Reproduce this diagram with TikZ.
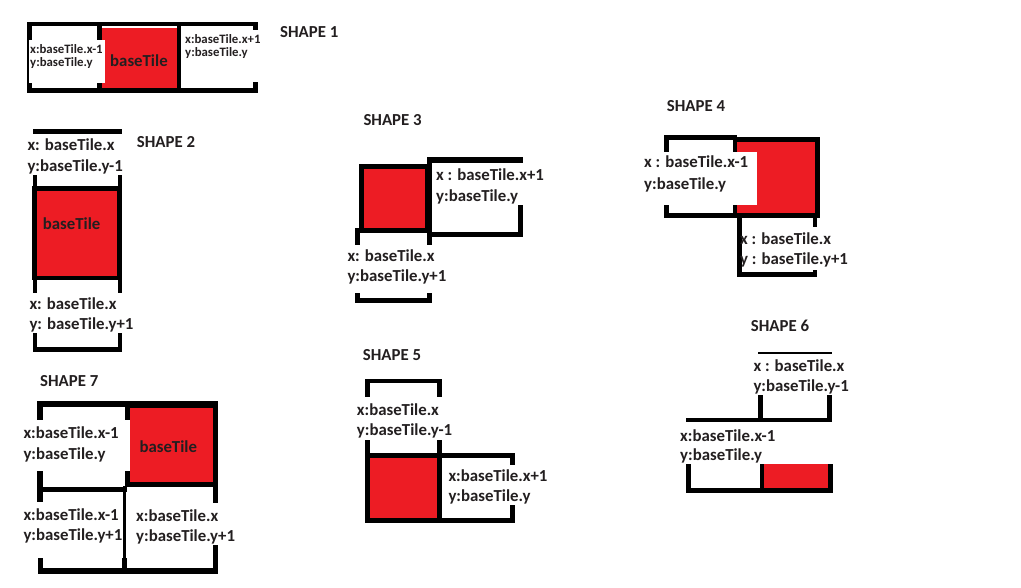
\documentclass[tikz,border=0pt]{standalone}
\usepackage{fontspec}
\setmainfont{Carlito}
\definecolor{pred}{RGB}{237,28,36}
\definecolor{txt}{RGB}{35,31,32}
\newcommand\lblfont{\fontsize{16.8}{20}\selectfont\bfseries}
\newcommand\smlfont{\fontsize{12.8}{13}\selectfont\bfseries}
\tikzset{
  lbl/.style={anchor=base west, inner sep=0pt, text=txt, font=\lblfont},
  sml/.style={lbl, font=\smlfont},
  bk/.style={fill=black},
  rd/.style={fill=pred},
  wh/.style={fill=white}
}
\begin{document}
\begin{tikzpicture}[x=1pt,y=-1pt]
\fill[white] (0,0) rectangle (1021,588);
\useasboundingbox (0,0) rectangle (1021,588);

% ---------- SHAPE 1 ----------
\fill[bk] (27,21.7) rectangle (258.3,26.3);
\fill[bk] (27,88.3) rectangle (258.3,93.3);
\fill[bk] (27,21.7) rectangle (32,93.3);
\fill[bk] (97,21.7) rectangle (101.7,93.3);
\fill[bk] (176.7,21.7) rectangle (181,93.3);
\fill[bk] (253.3,21.7) rectangle (258.3,30);
\fill[bk] (253.3,81.7) rectangle (258.3,93.3);
\fill[rd] (101.7,28.3) rectangle (176.7,88.3);
\fill[wh] (29.3,40) rectangle (105,83);
\node[sml] (s1a) at (30,53.8) {x:baseTile.x-1};
\node[sml] (s1b) at (30,67) {y:baseTile.y};
\node[lbl] (s1c) at (110,66.8) {baseTile};
\node[sml] (s1d) at (185,43.8) {x:baseTile.x+1};
\node[sml] (s1e) at (185,57) {y:baseTile.y};
\node[lbl] (t1) at (280,37.7) {SHAPE 1};

% ---------- SHAPE 2 ----------
\fill[bk] (33.3,129.3) rectangle (121.7,134);
\fill[bk] (33.3,175) rectangle (37.3,292.7);
\fill[bk] (117.7,175) rectangle (122.3,292.7);
\fill[bk] (32.3,185.7) rectangle (121.7,280);
\fill[rd] (37.3,190.7) rectangle (117.3,275.7);
\fill[bk] (33.3,333.3) rectangle (37.3,351.7);
\fill[bk] (117.7,333.3) rectangle (122.3,351.7);
\fill[bk] (33.3,346.7) rectangle (122.3,351.7);
\node[lbl] (s2a) at (27.3,151) {x: baseTile.x};
\node[lbl] (s2b) at (27.3,171.7) {y:baseTile.y-1};
\node[lbl] (s2c) at (42.7,230) {baseTile};
\node[lbl] (s2d) at (29.3,309.3) {x: baseTile.x};
\node[lbl] (s2e) at (29.3,330) {y: baseTile.y+1};
\node[lbl] (t2) at (136.7,147.7) {SHAPE 2};

% ---------- SHAPE 3 ----------
\fill[bk] (359.3,164) rectangle (430,232.7);
\fill[rd] (364.3,169) rectangle (425,227.7);
\fill[bk] (426.7,157.3) rectangle (523.3,162.7);
\fill[bk] (426.7,157.3) rectangle (431.7,236.7);
\fill[bk] (518.3,157.3) rectangle (523.3,163.3);
\fill[bk] (518.3,205) rectangle (523.3,236.7);
\fill[bk] (426.7,231.7) rectangle (523.3,236.7);
\fill[bk] (355,228.3) rectangle (360,245);
\fill[bk] (426.7,232) rectangle (431.7,245);
\fill[bk] (355,293) rectangle (360,303);
\fill[bk] (426.7,293) rectangle (431.7,303);
\fill[bk] (355,298) rectangle (431.7,303);
\node[lbl] (s3a) at (436,181) {x : baseTile.x+1};
\node[lbl] (s3b) at (436,201.7) {y:baseTile.y};
\node[lbl] (s3c) at (347.3,261.7) {x: baseTile.x};
\node[lbl] (s3d) at (347.3,281.7) {y:baseTile.y+1};
\node[lbl] (t3) at (363.3,125.7) {SHAPE 3};

% ---------- SHAPE 4 ----------
\fill[bk] (664.3,135) rectangle (736.7,140);
\fill[bk] (664.3,135) rectangle (669.3,218.3);
\fill[bk] (664.3,213.3) rectangle (736.7,218.3);
\fill[bk] (733.3,136.7) rectangle (820,218.3);
\fill[rd] (737.3,141.7) rectangle (815,213.3);
\fill[wh] (644,151.7) rectangle (756.7,205);
\fill[bk] (737.3,218.3) rectangle (741.7,276.7);
\fill[bk] (812.7,218) rectangle (817.3,226.7);
\fill[bk] (812.7,270) rectangle (817.3,276.7);
\fill[bk] (737.3,271.7) rectangle (817.3,276.7);
\node[lbl] (s4a) at (644,167.7) {x : baseTile.x-1};
\node[lbl] (s4b) at (644,189.3) {y:baseTile.y};
\node[lbl] (s4c) at (740,244.3) {x : baseTile.x};
\node[lbl] (s4d) at (740,265) {y : baseTile.y+1};
\node[lbl] (t4) at (666.7,111.7) {SHAPE 4};

% ---------- SHAPE 5 ----------
\fill[bk] (365,379) rectangle (441.7,383.3);
\fill[bk] (365,379) rectangle (370,396.7);
\fill[bk] (436.7,379) rectangle (441.7,396.7);
\fill[bk] (365,440) rectangle (370,455);
\fill[bk] (436.7,440) rectangle (441.7,455);
\fill[bk] (365,453.3) rectangle (441.7,523.3);
\fill[rd] (370,458.3) rectangle (436.7,518.3);
\fill[bk] (436.7,453.3) rectangle (515,458.3);
\fill[bk] (510,453.3) rectangle (515,465);
\fill[bk] (510,505) rectangle (515,523.3);
\fill[bk] (365,518.3) rectangle (515,523.3);
\node[lbl] (s5a) at (356.7,415.7) {x:baseTile.x};
\node[lbl] (s5b) at (356.7,435.7) {y:baseTile.y-1};
\node[lbl] (s5c) at (448.3,481.7) {x:baseTile.x+1};
\node[lbl] (s5d) at (448.3,501.7) {y:baseTile.y};
\node[lbl] (t5) at (362.7,360) {SHAPE 5};

% ---------- SHAPE 6 ----------
\fill[bk] (758.3,351.7) rectangle (831.7,354);
\fill[bk] (758.3,395) rectangle (762.7,421.7);
\fill[bk] (827.3,395) rectangle (831.7,421.7);
\fill[bk] (686,418.3) rectangle (831.7,421.7);
\fill[rd] (764,464) rectangle (828.3,488.3);
\fill[bk] (686,464) rectangle (690.7,493.3);
\fill[bk] (760,464) rectangle (764,493.3);
\fill[bk] (828.3,464) rectangle (832.7,493.3);
\fill[bk] (686,488.3) rectangle (832.7,493.3);
\node[lbl] (s6a) at (753.3,371) {x : baseTile.x};
\node[lbl] (s6b) at (753.3,391.7) {y:baseTile.y-1};
\node[lbl] (s6c) at (680,441) {x:baseTile.x-1};
\node[lbl] (s6d) at (680,460.7) {y:baseTile.y};
\node[lbl] (t6) at (750.7,331.7) {SHAPE 6};

% ---------- SHAPE 7 ----------
\fill[bk] (37.3,401) rectangle (129.3,406.7);
\fill[bk] (37.3,401) rectangle (42.7,501.7);
\fill[bk] (38.3,558.3) rectangle (43.3,574.3);
\fill[bk] (125,401) rectangle (218.3,486.7);
\fill[rd] (130,407.7) rectangle (212.7,482);
\fill[wh] (23,420) rectangle (130,471);
\fill[bk] (212.7,486) rectangle (218.3,503.3);
\fill[bk] (37.3,486.7) rectangle (126.7,491.7);
\fill[bk] (123.3,486) rectangle (126,571);
\fill[bk] (121.7,558.3) rectangle (126.7,574.3);
\fill[bk] (212.7,545) rectangle (218.3,574.3);
\fill[bk] (38.3,568.3) rectangle (218.3,574.3);
\node[lbl] (s7a) at (23.3,438.3) {x:baseTile.x-1};
\node[lbl] (s7b) at (23.3,459.3) {y:baseTile.y};
\node[lbl] (s7c) at (139.3,452.7) {baseTile};
\node[lbl] (s7d) at (23.3,520) {x:baseTile.x-1};
\node[lbl] (s7e) at (23.3,540.7) {y:baseTile.y+1};
\node[lbl] (s7f) at (136,521.7) {x:baseTile.x};
\node[lbl] (s7g) at (136,541.7) {y:baseTile.y+1};
\node[lbl] (t7) at (40,386.7) {SHAPE 7};
\end{tikzpicture}
\end{document}
